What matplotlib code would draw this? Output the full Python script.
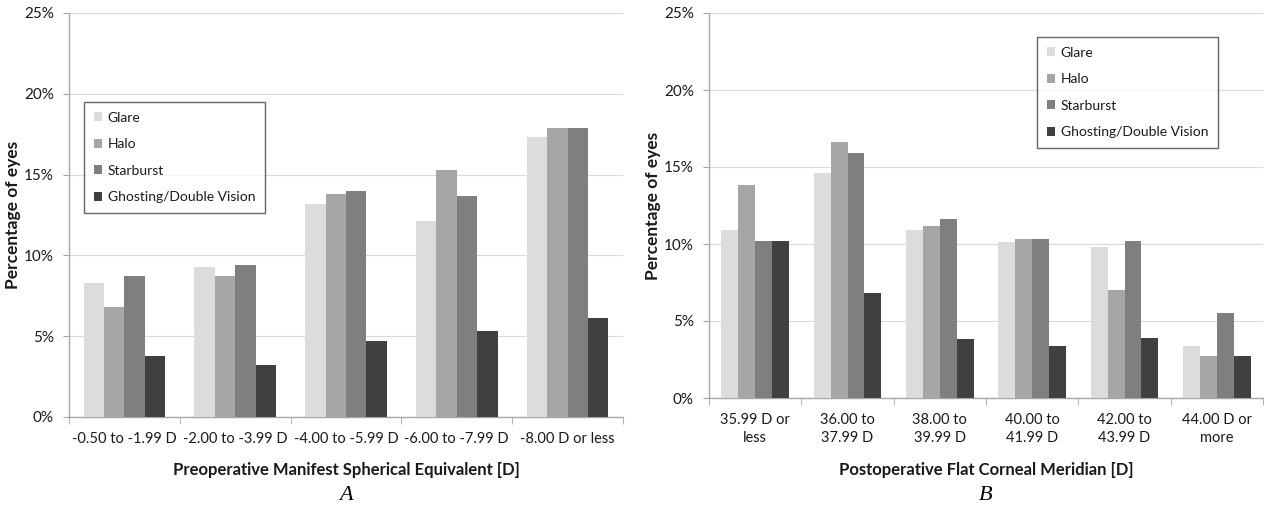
import matplotlib
matplotlib.use("Agg")
import matplotlib.pyplot as plt
import numpy as np
from matplotlib.ticker import FuncFormatter, FixedLocator

plt.rcParams['font.family'] = ['Lato', 'DejaVu Sans']

# data
series = ["Glare", "Halo", "Starburst", "Ghosting/Double Vision"]
colors = ["#dcdcdc", "#a6a6a6", "#7f7f7f", "#404040"]

groups_a = ["-0.50 to -1.99 D", "-2.00 to -3.99 D", "-4.00 to -5.99 D",
            "-6.00 to -7.99 D", "-8.00 D or less"]
glare_a = [8.3, 9.3, 13.2, 12.1, 17.3]
halo_a = [6.8, 8.7, 13.8, 15.3, 17.9]
star_a = [8.7, 9.4, 14.0, 13.7, 17.9]
ghost_a = [3.8, 3.2, 4.7, 5.3, 6.1]

groups_b = ["35.99 D or\nless", "36.00 to\n37.99 D", "38.00 to\n39.99 D",
            "40.00 to\n41.99 D", "42.00 to\n43.99 D", "44.00 D or\nmore"]
glare_b = [10.9, 14.6, 10.9, 10.1, 9.8, 3.4]
halo_b = [13.8, 16.6, 11.2, 10.3, 7.0, 2.7]
star_b = [10.2, 15.9, 11.6, 10.3, 10.2, 5.5]
ghost_b = [10.2, 6.8, 3.8, 3.4, 3.9, 2.7]

text_col = "#1a1a1a"
spine_col = "#a6a6a6"


def draw_panel(ax, groups, values, xlabel, legend_xy, ylab_x, xlab_y):
    x = np.arange(len(groups))
    w = 0.184
    for i, (vals, col, name) in enumerate(zip(values, colors, series)):
        ax.bar(x + (i - 1.5) * w, vals, width=w, color=col, label=name,
               zorder=3)
    ax.set_xlim(-0.5, len(groups) - 0.5)
    ax.set_ylim(0, 25)
    ax.yaxis.set_major_locator(FixedLocator([0, 5, 10, 15, 20, 25]))
    ax.yaxis.set_major_formatter(FuncFormatter(lambda v, p: f"{v:.0f}%"))
    ax.grid(axis='y', color="#d9d9d9", linewidth=0.8, zorder=0)
    ax.set_xticks(x)
    ax.set_xticklabels(groups, linespacing=1.35)
    ax.set_xticks(np.arange(len(groups) + 1) - 0.5, minor=True)
    ax.tick_params(axis='x', which='major', length=0, pad=11,
                   labelsize=10.5, labelcolor=text_col)
    ax.tick_params(axis='x', which='minor', length=5, color=spine_col)
    ax.tick_params(axis='y', length=4, color=spine_col, pad=7,
                   labelsize=11, labelcolor=text_col)
    for s in ['top', 'right']:
        ax.spines[s].set_visible(False)
    for s in ['left', 'bottom']:
        ax.spines[s].set_color(spine_col)
        ax.spines[s].set_linewidth(1.0)
    ax.set_ylabel("Percentage of eyes", fontsize=12.5, fontweight='bold',
                  color=text_col)
    ax.yaxis.set_label_coords(ylab_x, 0.5)
    ax.set_xlabel(xlabel, fontsize=12, fontweight='bold', color=text_col)
    ax.xaxis.set_label_coords(0.5, xlab_y)
    leg = ax.legend(loc='upper left', bbox_to_anchor=legend_xy,
                    fontsize=10, frameon=True, fancybox=False,
                    edgecolor="#404040", handlelength=0.6, handleheight=0.6,
                    handletextpad=0.4, labelspacing=1.05, borderpad=0.7,
                    borderaxespad=0)
    leg.get_frame().set_linewidth(1.0)
    for t in leg.get_texts():
        t.set_color(text_col)


fig = plt.figure(figsize=(12.64, 5.08), dpi=100)
ax_a = fig.add_axes([69 / 1264, 91 / 508, 554 / 1264, 404 / 508])
ax_b = fig.add_axes([709 / 1264, 110 / 508, 554 / 1264, 385 / 508])

draw_panel(ax_a, groups_a, [glare_a, halo_a, star_a, ghost_a],
           "Preoperative Manifest Spherical Equivalent [D]",
           (0.027, 0.78), -0.087, -0.112)
draw_panel(ax_b, groups_b, [glare_b, halo_b, star_b, ghost_b],
           "Postoperative Flat Corneal Meridian [D]",
           (0.592, 0.938), -0.087, -0.166)

fig.text(346 / 1264, 1 - 496 / 508, "A", family="Liberation Serif",
         style='italic', fontsize=16, ha='center', va='center')
fig.text(986 / 1264, 1 - 496 / 508, "B", family="Liberation Serif",
         style='italic', fontsize=16, ha='center', va='center')

fig.savefig("out.png", dpi=100)
